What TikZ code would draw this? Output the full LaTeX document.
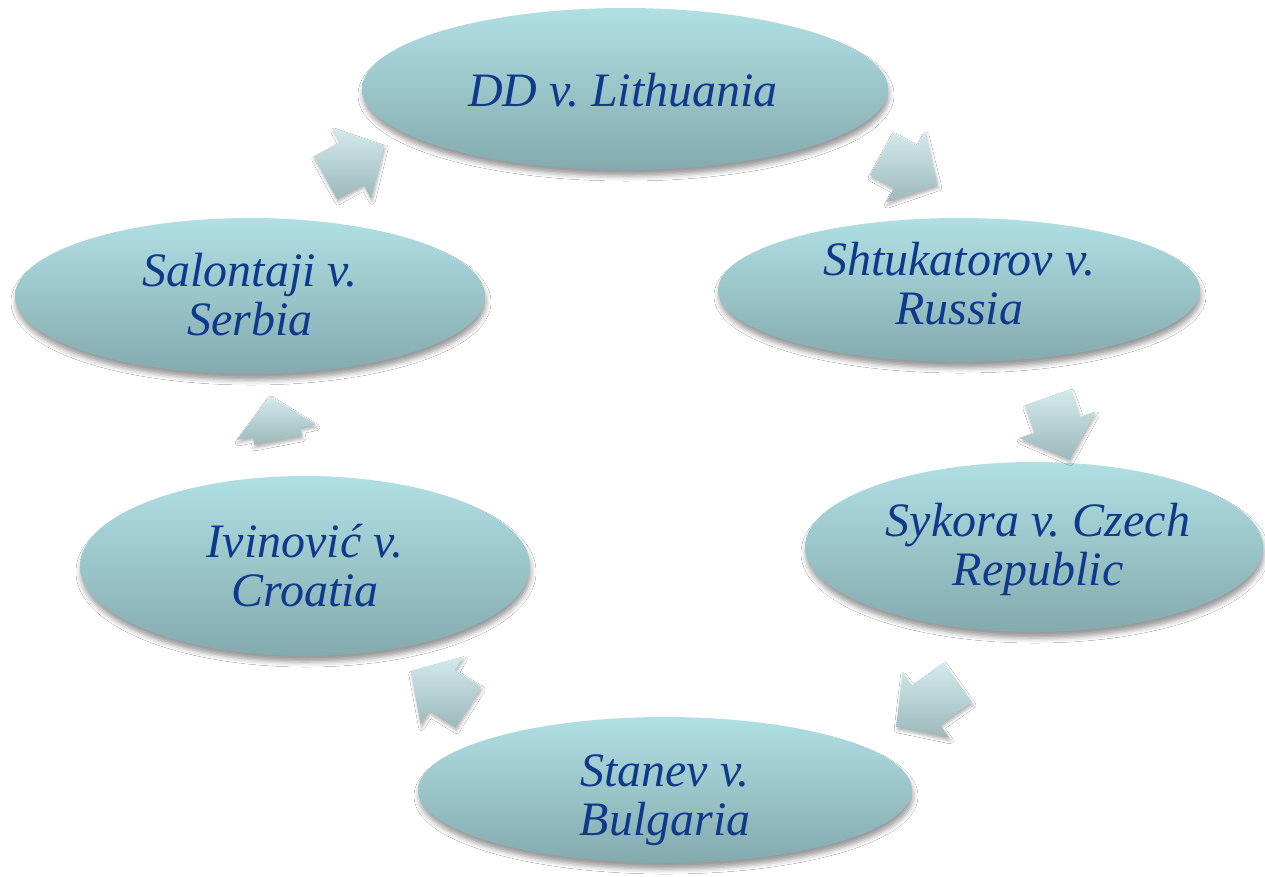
\documentclass[tikz,border=0pt]{standalone}
\usepackage{fontspec}
\setmainfont{Liberation Serif}
\usetikzlibrary{shapes.geometric,shapes.arrows,shadows.blur}

\definecolor{ovaltop}{RGB}{176,224,228}
\definecolor{ovalbot}{RGB}{132,170,174}
\definecolor{arrtop}{RGB}{210,235,237}
\definecolor{arrbot}{RGB}{156,184,187}
\definecolor{caseblue}{RGB}{14,58,140}

\tikzset{
  case/.style={ellipse, inner sep=0pt, draw=none,
    top color=ovaltop, bottom color=ovalbot,
    blur shadow={shadow xshift=1pt, shadow yshift=-6pt,
                 shadow blur radius=5pt, shadow opacity=40}},
  casetext/.style={inner sep=0pt, align=center, text=caseblue,
    font=\fontsize{48}{49}\selectfont\itshape},
  cyclearrow/.style 2 args={single arrow, inner xsep=0pt, inner ysep=24pt,
    draw=none, single arrow head extend=16pt,
    single arrow tip angle=95, minimum height=#2, rotate=#1,
    top color=arrtop, bottom color=arrbot,
    blur shadow={shadow xshift=1pt, shadow yshift=-3pt,
                 shadow blur radius=3pt, shadow opacity=30}}
}

\begin{document}
\frenchspacing
\begin{tikzpicture}[x=1pt, y=-1pt]
  \fill[white] (0,0) rectangle (1265,876);
  \useasboundingbox (0,0) rectangle (1265,876);

  % the six cases
  \node[case, minimum width=526pt, minimum height=162pt] (dd)  at (625,89)  {};
  \node[case, minimum width=482pt, minimum height=144pt] (sht) at (959,290) {};
  \node[case, minimum width=458pt, minimum height=170pt] (syk) at (1034,547) {};
  \node[case, minimum width=494pt, minimum height=146pt] (sta) at (665,790) {};
  \node[case, minimum width=450pt, minimum height=180pt] (ivi) at (305,566) {};
  \node[case, minimum width=470pt, minimum height=156pt] (sal) at (250,296) {};

  \node[casetext] (ddt)  at (623,90)   {DD v. Lithuania};
  \node[casetext] (shtt) at (959,284)  {Shtukatorov v.\\Russia};
  \node[casetext] (sykt) at (1038,549) {Sykora v. Czech\\Republic};
  \node[casetext] (stat) at (665,800)  {Stanev v.\\Bulgaria};
  \node[casetext] (ivit) at (305,566)  {Ivinović v.\\Croatia};
  \node[casetext] (salt) at (250,295)  {Salontaji v.\\Serbia};

  % block arrows running clockwise round the cycle
  \node[cyclearrow={-28.7}{64pt}] (a1) at (900,164) {};
  \node[cyclearrow={-70.8}{66pt}] (a2) at (1055,418) {};
  \node[cyclearrow={215.7}{76pt}] (a3) at (936,698) {};
  \node[cyclearrow={148}{68pt}]   (a4) at (449,695) {};
  \node[cyclearrow={101}{45pt}]   (a5) at (276,429) {};
  \node[cyclearrow={28.7}{67pt}]  (a6) at (345,167) {};
\end{tikzpicture}
\end{document}
